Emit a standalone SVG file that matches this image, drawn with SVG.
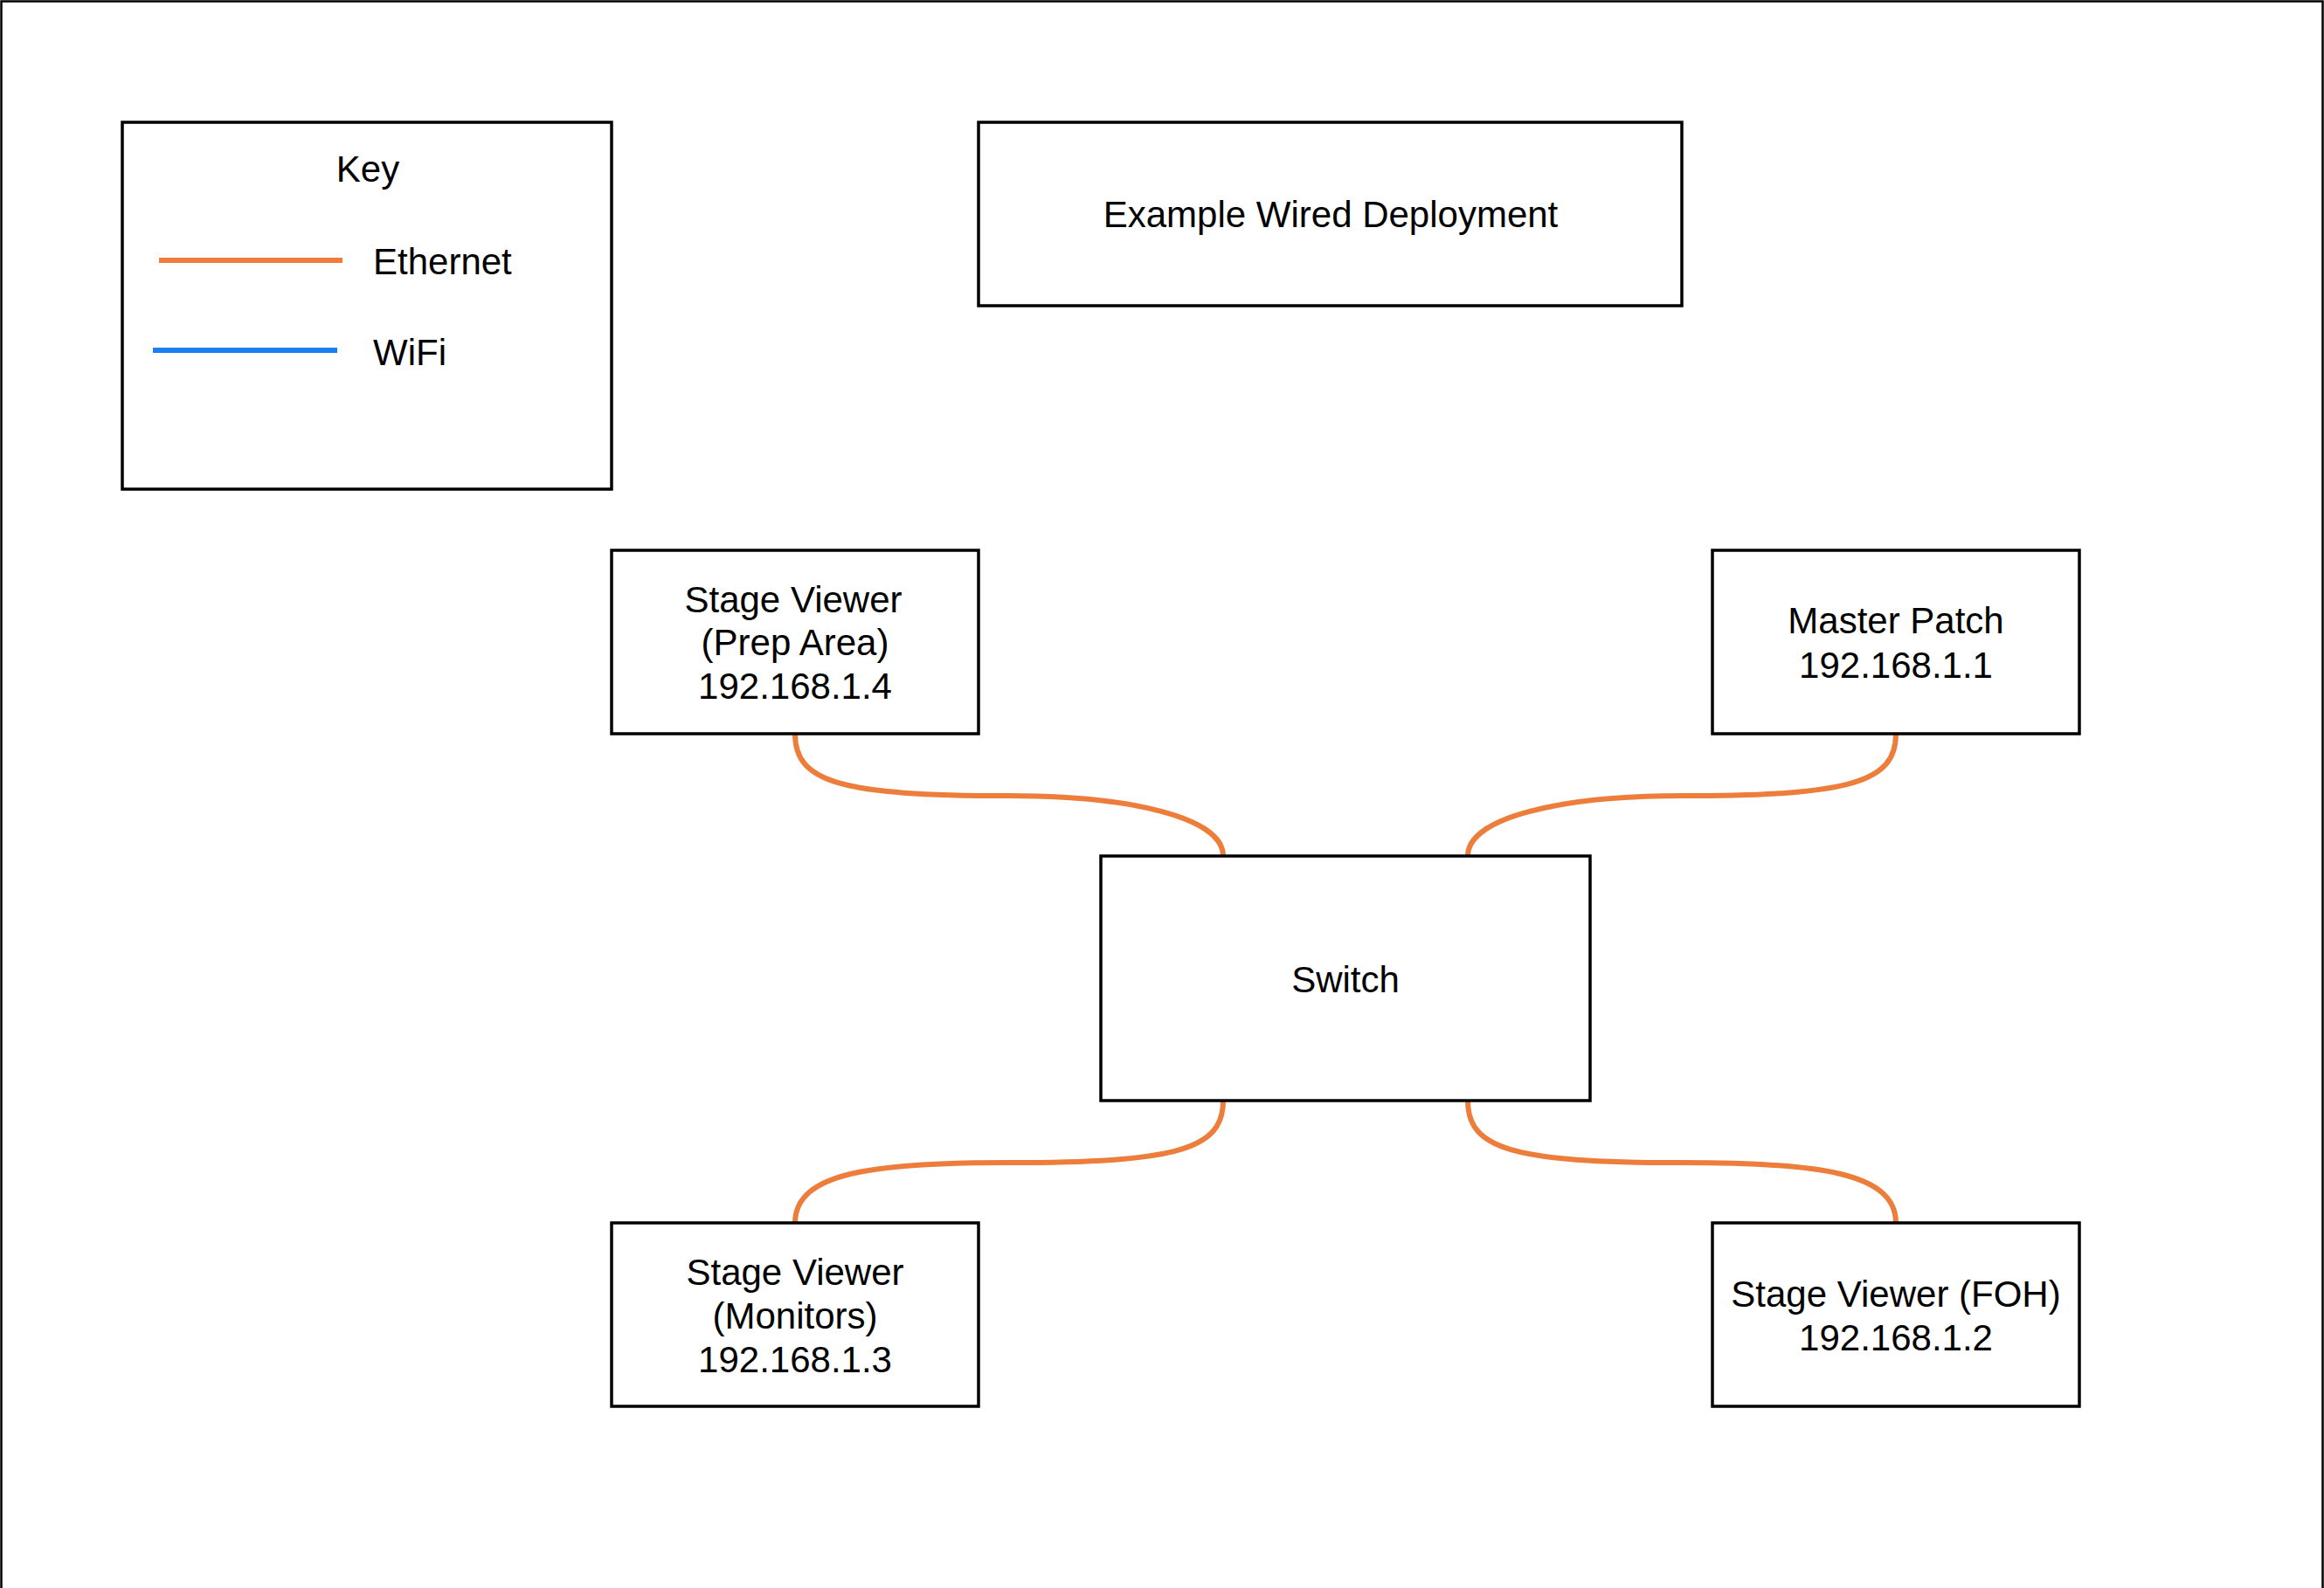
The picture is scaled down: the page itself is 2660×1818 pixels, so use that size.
<svg xmlns="http://www.w3.org/2000/svg" width="2660" height="1818" viewBox="0 0 2660 1818">
<style>
  .box { fill: #ffffff; stroke: #000000; stroke-width: 3.5; }
  .lbl { font-family: "Liberation Sans", Arial, Helvetica, sans-serif; font-size: 42px; fill: #000000; }
  .mid { text-anchor: middle; }
  .eth { fill: none; stroke: #ED7D3A; stroke-width: 6; }
  .wifi { fill: none; stroke: #1B7FEF; stroke-width: 6; }
</style>
<rect x="0" y="0" width="2660" height="1818" fill="#ffffff"/>
<rect x="1.5" y="1.5" width="2657" height="1840" fill="none" stroke="#000000" stroke-width="2.5"/>

<g id="key">
  <rect class="box" x="140" y="140" width="560" height="420"/>
  <text class="lbl mid" x="421" y="208">Key</text>
  <line class="eth" x1="182" y1="298" x2="392" y2="298"/>
  <text class="lbl" x="427" y="314">Ethernet</text>
  <line class="wifi" x1="175" y1="401" x2="386" y2="401"/>
  <text class="lbl" x="427" y="418">WiFi</text>
</g>

<g id="title">
  <rect class="box" x="1120" y="140" width="805" height="210"/>
  <text class="lbl mid" x="1523" y="260">Example Wired Deployment</text>
</g>

<g id="connectors">
  <path class="eth" d="M910,840 C910,895 960,911 1155,911 C1290,911 1400,935 1400,980"/>
  <path class="eth" d="M2170,840 C2170,895 2120,911 1925,911 C1790,911 1680,935 1680,980"/>
  <path class="eth" d="M1400,1260 C1400,1315 1350,1331 1155,1331 C1000,1331 910,1342 910,1400"/>
  <path class="eth" d="M1680,1260 C1680,1315 1730,1331 1925,1331 C2080,1331 2170,1342 2170,1400"/>
</g>

<g id="prep">
  <rect class="box" x="700" y="630" width="420" height="210"/>
  <text class="lbl mid" x="908" y="701">Stage Viewer</text>
  <text class="lbl mid" x="910" y="750">(Prep Area)</text>
  <text class="lbl mid" x="910" y="800">192.168.1.4</text>
</g>

<g id="master">
  <rect class="box" x="1960" y="630" width="420" height="210"/>
  <text class="lbl mid" x="2170" y="725">Master Patch</text>
  <text class="lbl mid" x="2170" y="776">192.168.1.1</text>
</g>

<g id="switch">
  <rect class="box" x="1260" y="980" width="560" height="280"/>
  <text class="lbl mid" x="1540" y="1136">Switch</text>
</g>

<g id="monitors">
  <rect class="box" x="700" y="1400" width="420" height="210"/>
  <text class="lbl mid" x="910" y="1471">Stage Viewer</text>
  <text class="lbl mid" x="910" y="1521">(Monitors)</text>
  <text class="lbl mid" x="910" y="1571">192.168.1.3</text>
</g>

<g id="foh">
  <rect class="box" x="1960" y="1400" width="420" height="210"/>
  <text class="lbl mid" x="2170" y="1496">Stage Viewer (FOH)</text>
  <text class="lbl mid" x="2170" y="1546">192.168.1.2</text>
</g>
</svg>
